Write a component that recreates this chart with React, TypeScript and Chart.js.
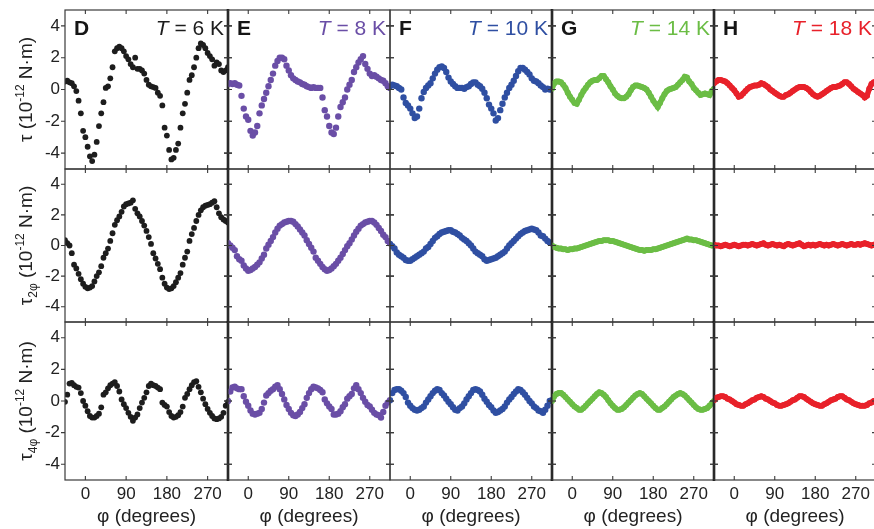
import React, { useEffect, useRef } from "react";
import { Chart, registerables } from "chart.js";

Chart.register(...registerables);

// ---------------- data ----------------
const PHI = [
  -45, -40, -35, -30, -25, -20, -15, -10, -5, 0,
  5, 10, 15, 20, 25, 30, 35, 40, 45, 50,
  55, 60, 65, 70, 75, 80, 85, 90, 95, 100,
  105, 110, 115, 120, 125, 130, 135, 140, 145, 150,
  155, 160, 165, 170, 175, 180, 185, 190, 195, 200,
  205, 210, 215, 220, 225, 230, 235, 240, 245, 250,
  255, 260, 265, 270, 275, 280, 285, 290, 295, 300,
  305, 310, 315,
];

const X_TICKS = [0, 90, 180, 270];
const Y_TICKS = [-4, -2, 0, 2, 4];
const X_RANGE = [-45, 315];
const Y_RANGE = [-5, 5];

const PANEL_LETTERS = ["D", "E", "F", "G", "H"];
const TEMPERATURES = ["6", "8", "10", "14", "18"];
const SERIES_COLORS = ["#1d1d1d", "#6a4ea6", "#2f4fa2", "#6bbd45", "#e8212a"];
const ROW_SUBSCRIPTS = ["", "2\u03c6", "4\u03c6"];
const X_TITLE = "\u03c6 (degrees)";

// torque tau (row 1)
const TAU_6K = [
  0.5, 0.55, 0.45, 0.4, 0.2, -0.1, -0.7, -1.5, -2.6, -3.0,
  -3.6, -4.2, -4.5, -4.1, -3.3, -2.3, -1.5, -0.8, 0.1, 0.2,
  0.7, 1.4, 2.4, 2.6, 2.7, 2.6, 2.4, 2.1, 1.9, 1.6,
  1.4, 2.0, 1.3, 1.3, 1.2, 1.0, 0.6, 0.3, 0.2, 0.15,
  0.1, -0.2, -0.4, -1.0, -2.4, -2.9, -3.8, -4.4, -4.3, -3.8,
  -3.4, -2.4, -1.5, -0.9, -0.2, 0.6, 0.9, 1.4, 2.0, 2.6,
  2.9, 2.8, 2.6, 2.3, 2.1, 1.9, 1.5, 1.7, 1.6, 1.2,
  1.1, 1.2, 1.4,
];
const TAU_8K = [
  0.35, 0.4, 0.35, 0.4, 0.3, 0.25, -0.4, -1.2, -1.7, -1.9,
  -2.6, -2.9, -2.7, -2.3, -1.5, -1.0, -0.6, -0.2, 0.2, 0.6,
  1.0, 1.5, 1.8, 2.0, 2.0, 1.9, 1.5, 1.2, 0.9, 0.7,
  0.6, 0.5, 0.45, 0.35, 0.3, 0.2, 0.15, 0.1, 0.15, 0.1,
  0.1, 0.1, -0.5, -1.3, -1.7, -2.3, -2.7, -2.8, -2.4, -1.7,
  -1.1, -0.8, -0.5, 0.0, 0.3, 0.6, 1.1, 1.4, 1.7, 1.9,
  2.1, 1.6, 1.3, 1.0, 0.85, 0.9, 0.8, 0.7, 0.6, 0.55,
  0.4, 0.2, 0.1,
];
const TAU_10K = [
  0.2, 0.3, 0.25, 0.2, 0.1, 0.0, -0.5, -0.85, -1.0, -1.2,
  -1.5, -1.8, -1.7, -1.2, -0.55, -0.15, 0.1, 0.25, 0.4, 0.7,
  1.0, 1.25, 1.4, 1.45, 1.35, 1.1, 0.75, 0.5, 0.35, 0.2,
  0.1, 0.1, 0.1, 0.05, 0.15, 0.2, 0.35, 0.45, 0.45, 0.3,
  0.2, 0.05, -0.2, -0.55, -0.95, -1.2, -1.5, -1.95, -1.8, -1.3,
  -0.9, -0.5, -0.2, 0.1, 0.3, 0.55, 0.85, 1.15, 1.35, 1.35,
  1.25, 1.1, 0.95, 0.7, 0.55, 0.5, 0.4, 0.25, 0.15, 0.0,
  0.05, 0.0, 0.0,
];
const TAU_14K = [
  0.05, 0.4, 0.5, 0.5, 0.45, 0.3, 0.1, -0.2, -0.45, -0.65,
  -0.85, -0.9, -0.65, -0.35, -0.1, 0.1, 0.3, 0.45, 0.55, 0.6,
  0.6, 0.7, 0.85, 0.85, 0.65, 0.45, 0.2, 0.0, -0.25, -0.4,
  -0.5, -0.55, -0.55, -0.45, -0.3, -0.05, 0.15, 0.25, 0.25, 0.2,
  0.15, 0.1, 0.0, -0.2, -0.45, -0.7, -0.9, -1.1, -0.85, -0.55,
  -0.3, -0.1, 0.0, 0.05, 0.1, 0.15, 0.3, 0.45, 0.6, 0.8,
  0.75, 0.5, 0.35, 0.1, -0.05, -0.2, -0.35, -0.3, -0.25, -0.3,
  -0.35, -0.1, 0.05,
];
const TAU_18K = [
  0.4, 0.5, 0.6, 0.6, 0.55, 0.5, 0.4, 0.25, 0.1, -0.05,
  -0.25, -0.45, -0.4, -0.25, -0.1, 0.05, 0.15, 0.2, 0.25, 0.25,
  0.3, 0.4, 0.35, 0.25, 0.15, 0.0, -0.1, -0.2, -0.3, -0.4,
  -0.45, -0.45, -0.35, -0.3, -0.2, -0.1, 0.0, 0.1, 0.15, 0.15,
  0.15, 0.1, 0.0, -0.15, -0.3, -0.4, -0.45, -0.4, -0.3, -0.2,
  -0.1, 0.0, 0.1, 0.15, 0.15, 0.2, 0.25, 0.35, 0.45, 0.45,
  0.35, 0.2, 0.05, -0.05, -0.15, -0.25, -0.35, -0.5, -0.4, 0.05,
  0.35, 0.45, 0.5,
];

// two-fold component tau_2phi (row 2)
const TAU2_6K = [
  0.35, 0.15, 0.0, -0.5, -1.25, -1.5, -1.85, -2.2, -2.5, -2.7,
  -2.8, -2.75, -2.65, -2.35, -2.0, -1.75, -1.35, -0.8, -0.5, -0.2,
  0.3, 0.8, 1.35, 1.65, 1.9, 2.2, 2.55, 2.7, 2.75, 2.8,
  2.95, 2.4, 2.1, 1.9, 1.6, 1.3, 0.95, 0.55, 0.1, -0.5,
  -0.85, -1.2, -1.55, -2.1, -2.5, -2.75, -2.85, -2.8, -2.65, -2.4,
  -2.1, -1.8, -1.25, -0.8, -0.4, 0.3, 0.75, 1.15, 1.6, 2.0,
  2.3, 2.5, 2.6, 2.65, 2.7, 2.8, 2.9, 2.5, 2.1, 1.85,
  1.7, 1.6, 1.5,
];
const TAU2_8K = [
  0.15, 0.0, -0.15, -0.3, -0.7, -0.9, -1.0, -1.3, -1.5, -1.65,
  -1.6, -1.5, -1.4, -1.25, -1.1, -0.85, -0.6, -0.2, 0.05, 0.3,
  0.55, 0.85, 1.1, 1.3, 1.4, 1.5, 1.55, 1.6, 1.6, 1.55,
  1.4, 1.25, 1.05, 0.85, 0.65, 0.35, 0.1, -0.15, -0.4, -0.8,
  -1.0, -1.2, -1.4, -1.55, -1.65, -1.6, -1.5, -1.35, -1.2, -1.0,
  -0.8, -0.55, -0.3, -0.05, 0.15, 0.4, 0.65, 0.9, 1.1, 1.3,
  1.4, 1.5, 1.55, 1.6, 1.6, 1.5, 1.35, 1.15, 0.95, 0.7,
  0.55, 0.3, 0.15,
];
const TAU2_10K = [
  0.1, -0.05, -0.2, -0.45, -0.6, -0.7, -0.8, -0.95, -1.0, -1.0,
  -0.9, -0.8, -0.7, -0.6, -0.5, -0.4, -0.2, -0.1, 0.1, 0.3,
  0.5, 0.6, 0.75, 0.85, 0.9, 0.95, 1.0, 1.0, 0.9, 0.85,
  0.75, 0.65, 0.5, 0.4, 0.3, 0.15, 0.0, -0.2, -0.4, -0.5,
  -0.6, -0.7, -0.9, -1.0, -0.95, -0.9, -0.85, -0.8, -0.7, -0.6,
  -0.5, -0.4, -0.2, 0.0, 0.15, 0.3, 0.45, 0.6, 0.75, 0.85,
  0.95, 1.0, 1.05, 1.1, 1.05, 1.0, 0.85, 0.65, 0.6, 0.45,
  0.3, 0.2, 0.15,
];
const TAU2_14K = [
  0.0, -0.1, -0.15, -0.2, -0.2, -0.25, -0.25, -0.3, -0.25, -0.25,
  -0.2, -0.2, -0.15, -0.1, -0.05, 0.0, 0.05, 0.1, 0.15, 0.2,
  0.25, 0.3, 0.3, 0.35, 0.35, 0.35, 0.3, 0.3, 0.25, 0.2,
  0.15, 0.1, 0.05, 0.0, -0.05, -0.1, -0.15, -0.2, -0.25, -0.3,
  -0.3, -0.35, -0.3, -0.3, -0.3, -0.25, -0.25, -0.2, -0.15, -0.1,
  -0.05, 0.0, 0.05, 0.1, 0.15, 0.2, 0.25, 0.3, 0.35, 0.4,
  0.45, 0.4, 0.4, 0.35, 0.35, 0.3, 0.25, 0.2, 0.15, 0.1,
  0.05, 0.0, 0.0,
];
const TAU2_18K = [
  0.05, 0.0, 0.0, -0.05, 0.0, 0.05, 0.0, -0.05, 0.0, 0.05,
  0.0, -0.05, 0.0, 0.05, 0.05, 0.0, 0.05, 0.1, 0.05, 0.0,
  0.05, 0.1, 0.15, 0.05, 0.0, 0.05, 0.1, 0.05, 0.0, 0.05,
  0.0, -0.05, 0.05, 0.1, 0.05, 0.0, 0.05, 0.1, 0.15, 0.05,
  -0.05, 0.0, 0.05, 0.0, 0.05, 0.0, 0.05, 0.1, 0.05, 0.0,
  0.05, 0.0, 0.05, 0.1, 0.05, 0.0, 0.05, 0.1, 0.05, 0.0,
  0.05, 0.1, 0.05, 0.05, 0.1, 0.05, 0.1, 0.15, 0.1, 0.05,
  0.0, 0.05, 0.0,
];

// four-fold component tau_4phi (row 3)
const TAU4_6K = [
  -0.05, 0.4, 1.1, 1.15, 1.0, 0.9, 0.85, 0.5, 0.0, -0.3,
  -0.65, -0.95, -1.05, -1.05, -0.95, -0.8, -0.4, 0.4, 0.55, 0.8,
  1.0, 1.1, 1.2, 0.95, 0.6, 0.1, -0.2, -0.45, -0.75, -1.0,
  -1.25, -1.05, -0.85, -0.45, -0.1, 0.2, 0.55, 0.95, 1.1, 1.0,
  0.95, 0.85, 0.75, -0.1, -0.25, -0.35, -0.7, -0.95, -1.05, -1.0,
  -0.9, -0.7, -0.35, 0.2, 0.45, 0.75, 1.0, 1.2, 1.25, 0.9,
  0.55, 0.15, -0.2, -0.5, -0.75, -0.95, -1.1, -1.15, -1.1, -1.0,
  -0.75, -0.3, -0.05,
];
const TAU4_8K = [
  0.0, 0.6, 0.85, 0.9, 0.8, 0.75, 0.75, 0.3, -0.05, -0.3,
  -0.6, -0.8, -0.85, -0.8, -0.75, -0.5, -0.1, 0.35, 0.5, 0.65,
  0.75, 0.9, 1.0, 0.75, 0.45, 0.1, -0.25, -0.5, -0.75, -0.9,
  -0.95, -0.85, -0.7, -0.45, -0.2, 0.2, 0.5, 0.75, 0.9, 0.85,
  0.8, 0.7, 0.55, 0.1, -0.15, -0.35, -0.5, -0.85, -0.85, -0.8,
  -0.65, -0.4, -0.2, 0.15, 0.3, 0.45, 0.8, 1.0, 0.75, 0.5,
  0.2, -0.05, -0.25, -0.35, -0.55, -0.75, -0.85, -0.9, -1.05, -0.7,
  -0.3, -0.1, 0.05,
];
const TAU4_10K = [
  0.05, 0.5, 0.7, 0.75, 0.75, 0.65, 0.5, 0.25, -0.1, -0.3,
  -0.45, -0.55, -0.6, -0.55, -0.45, -0.35, -0.1, 0.1, 0.3, 0.5,
  0.65, 0.75, 0.7, 0.5, 0.35, 0.15, -0.05, -0.2, -0.4, -0.55,
  -0.6, -0.45, -0.35, -0.15, 0.1, 0.3, 0.5, 0.7, 0.75, 0.7,
  0.6, 0.4, 0.15, -0.05, -0.25, -0.4, -0.6, -0.75, -0.7, -0.6,
  -0.5, -0.35, -0.1, 0.1, 0.25, 0.45, 0.6, 0.75, 0.7, 0.55,
  0.4, 0.2, 0.0, -0.15, -0.35, -0.45, -0.6, -0.65, -0.75, -0.55,
  -0.3, 0.0, 0.05,
];
const TAU4_14K = [
  0.0, 0.3, 0.45, 0.5, 0.5, 0.4, 0.25, 0.1, -0.05, -0.2,
  -0.35, -0.45, -0.55, -0.55, -0.45, -0.3, -0.15, 0.0, 0.15, 0.3,
  0.45, 0.55, 0.5, 0.4, 0.25, 0.05, -0.15, -0.3, -0.45, -0.55,
  -0.55, -0.5, -0.4, -0.25, -0.1, 0.05, 0.2, 0.35, 0.45, 0.5,
  0.45, 0.3, 0.15, 0.0, -0.15, -0.3, -0.45, -0.55, -0.55, -0.45,
  -0.35, -0.2, -0.05, 0.1, 0.25, 0.35, 0.45, 0.5, 0.45, 0.35,
  0.2, 0.05, -0.1, -0.25, -0.4, -0.5, -0.55, -0.55, -0.5, -0.45,
  -0.3, -0.15, 0.0,
];
const TAU4_18K = [
  0.05, 0.2, 0.25, 0.3, 0.3, 0.25, 0.15, 0.1, 0.0, -0.1,
  -0.2, -0.25, -0.3, -0.3, -0.2, -0.15, -0.05, 0.05, 0.1, 0.2,
  0.25, 0.3, 0.25, 0.15, 0.1, 0.0, -0.1, -0.15, -0.25, -0.3,
  -0.3, -0.25, -0.2, -0.15, -0.05, 0.05, 0.1, 0.2, 0.3, 0.3,
  0.25, 0.15, 0.05, -0.05, -0.15, -0.2, -0.25, -0.3, -0.3, -0.2,
  -0.15, -0.05, 0.05, 0.1, 0.15, 0.25, 0.3, 0.3, 0.2, 0.1,
  0.05, -0.05, -0.15, -0.2, -0.25, -0.3, -0.3, -0.3, -0.25, -0.15,
  -0.1, 0.0, 0.05,
];

const ROWS = [
  [TAU_6K, TAU_8K, TAU_10K, TAU_14K, TAU_18K],
  [TAU2_6K, TAU2_8K, TAU2_10K, TAU2_14K, TAU2_18K],
  [TAU4_6K, TAU4_8K, TAU4_10K, TAU4_14K, TAU4_18K],
];

// ---------------- layout ----------------
const W = 874;
const H = 529;
const COL_X = [65, 228, 390, 552, 714, 876];
const ROW_Y = [10, 169, 322, 480];
const PAD = 6;
const FONT = '"Liberation Sans", Arial, Helvetica, sans-serif';
const TEXT = "#222";

function drawYTitle(ctx: CanvasRenderingContext2D, cx: number, cy: number, sub: string) {
  const big = `19px ${FONT}`;
  const small = `12px ${FONT}`;
  const parts: { t: string; f: string; dy: number }[] = [{ t: "\u03c4", f: big, dy: 0 }];
  if (sub) parts.push({ t: sub, f: small, dy: 5 });
  parts.push({ t: " (10", f: big, dy: 0 });
  parts.push({ t: "-12", f: small, dy: -8 });
  parts.push({ t: " N\u00b7m)", f: big, dy: 0 });
  let total = 0;
  const widths = parts.map((p) => {
    ctx.font = p.f;
    const w = ctx.measureText(p.t).width;
    total += w;
    return w;
  });
  ctx.save();
  ctx.translate(cx, cy);
  ctx.rotate(-Math.PI / 2);
  ctx.fillStyle = TEXT;
  ctx.textBaseline = "alphabetic";
  ctx.textAlign = "left";
  let x = -total / 2;
  parts.forEach((p, i) => {
    ctx.font = p.f;
    ctx.fillText(p.t, x, 6 + p.dy);
    x += widths[i];
  });
  ctx.restore();
}

const framePlugin = {
  id: "frame",
  afterDatasetsDraw(chart: any, _args: any, opts: any) {
    const { ctx, chartArea: a, scales } = chart;
    const xs = scales.x;
    const ys = scales.y;
    ctx.save();
    // frame
    ctx.strokeStyle = "#3a3a3a";
    ctx.lineWidth = 1.2;
    ctx.strokeRect(a.left, a.top, a.right - a.left, a.bottom - a.top);
    // ticks
    const tl = 4;
    ctx.beginPath();
    for (const v of X_TICKS) {
      const px = xs.getPixelForValue(v);
      ctx.moveTo(px, a.top);
      ctx.lineTo(px, a.top + tl);
      ctx.moveTo(px, a.bottom);
      ctx.lineTo(px, a.bottom - tl);
    }
    for (const v of Y_TICKS) {
      const py = ys.getPixelForValue(v);
      ctx.moveTo(a.left - tl, py);
      ctx.lineTo(opts.col === 0 ? a.left : a.left + tl, py);
      ctx.moveTo(a.right - tl, py);
      ctx.lineTo(a.right + tl, py);
    }
    ctx.lineWidth = 1.1;
    ctx.stroke();
    if (opts.thickRight) {
      ctx.beginPath();
      ctx.strokeStyle = "#111";
      ctx.lineWidth = 2.6;
      ctx.moveTo(a.right, a.top - 1);
      ctx.lineTo(a.right, a.bottom + 1);
      ctx.stroke();
    }
    // panel labels (top row)
    if (opts.row === 0) {
      ctx.textBaseline = "alphabetic";
      ctx.textAlign = "left";
      ctx.fillStyle = "#151515";
      ctx.font = `bold 21px ${FONT}`;
      ctx.fillText(opts.letter, a.left + 9, a.top + 25);
      const italic = `italic 21px ${FONT}`;
      const normal = `21px ${FONT}`;
      const rest = ` = ${opts.temp} K`;
      ctx.font = normal;
      const wRest = ctx.measureText(rest).width;
      ctx.font = italic;
      const wT = ctx.measureText("T").width;
      const xEnd = a.right - 4;
      ctx.fillStyle = opts.color;
      ctx.fillText("T", xEnd - wRest - wT, a.top + 25);
      ctx.font = normal;
      ctx.fillText(rest, xEnd - wRest, a.top + 25);
    }
    // y title (left column)
    if (opts.col === 0) {
      drawYTitle(ctx, 26, (a.top + a.bottom) / 2, ROW_SUBSCRIPTS[opts.row]);
    }
    ctx.restore();
  },
};

function Panel({ row, col }: { row: number; col: number }) {
  const ref = useRef<HTMLCanvasElement | null>(null);
  const L = COL_X[col];
  const R = COL_X[col + 1];
  const T = ROW_Y[row];
  const B = ROW_Y[row + 1];
  const left = col === 0 ? 0 : L - PAD;
  const right = R + PAD;
  const top = T - PAD;
  const bottom = row === 2 ? H : B + PAD;
  const cw = right - left;
  const ch = bottom - top;

  useEffect(() => {
    if (!ref.current) return;
    const values = ROWS[row][col];
    const color = SERIES_COLORS[col];
    const dense = col >= 3;
    const xScale: any = {
      type: "linear",
      min: X_RANGE[0],
      max: X_RANGE[1],
      display: row === 2,
      afterBuildTicks: (s: any) => {
        s.ticks = X_TICKS.map((v) => ({ value: v }));
      },
      grid: { display: false, drawTicks: false },
      border: { display: false },
      ticks: {
        font: { size: 17, family: FONT },
        color: TEXT,
        padding: 4,
        maxRotation: 0,
        autoSkip: false,
      },
      title: {
        display: true,
        text: X_TITLE,
        font: { size: 19, family: FONT },
        color: TEXT,
        padding: { top: 0, bottom: 1 },
      },
    };
    if (row === 2) {
      xScale.afterFit = (s: any) => {
        s.height = H - ROW_Y[3];
        s.paddingLeft = 0;
        s.paddingRight = 0;
        s.paddingTop = 0;
        s.paddingBottom = 0;
      };
    }
    const yScale: any = {
      type: "linear",
      min: Y_RANGE[0],
      max: Y_RANGE[1],
      display: col === 0,
      afterBuildTicks: (s: any) => {
        s.ticks = Y_TICKS.map((v) => ({ value: v }));
      },
      grid: { display: false, drawTicks: false },
      border: { display: false },
      ticks: {
        font: { size: 17, family: FONT },
        color: TEXT,
        padding: 5,
      },
    };
    if (col === 0) {
      yScale.afterFit = (s: any) => {
        s.width = COL_X[0];
        s.paddingTop = 0;
        s.paddingBottom = 0;
        s.paddingLeft = 0;
        s.paddingRight = 0;
      };
    }
    const radius = dense ? 3 : col === 0 ? 2.9 : 3.2;
    const chart = new Chart(ref.current, {
      type: "scatter",
      data: {
        datasets: [
          {
            data: PHI.map((p, i) => ({ x: p, y: values[i] })),
            pointRadius: radius,
            pointHoverRadius: 0,
            pointBackgroundColor: color,
            pointBorderWidth: 0,
            showLine: dense,
            borderColor: color,
            borderWidth: dense ? 5.5 : 0,
          },
        ],
      },
      options: {
        responsive: false,
        maintainAspectRatio: false,
        animation: false,
        events: [],
        layout: {
          padding: {
            left: col === 0 ? 0 : PAD,
            right: PAD,
            top: PAD,
            bottom: row === 2 ? 0 : PAD,
          },
        },
        plugins: {
          legend: { display: false },
          tooltip: { enabled: false },
          frame: {
            row,
            col,
            letter: PANEL_LETTERS[col],
            temp: TEMPERATURES[col],
            color,
            thickRight: col === 0 || col === 2 || col === 3,
          },
        } as any,
        scales: { x: xScale, y: yScale },
      },
      plugins: [framePlugin as any],
    });
    return () => chart.destroy();
  }, [row, col]);

  return (
    <canvas
      ref={ref}
      width={cw}
      height={ch}
      style={{ position: "absolute", left, top, width: cw, height: ch }}
    />
  );
}

export default function App() {
  const panels = [];
  for (let r = 0; r < 3; r++) {
    for (let c = 0; c < 5; c++) {
      panels.push(<Panel key={`${r}-${c}`} row={r} col={c} />);
    }
  }
  return (
    <div
      style={{
        position: "absolute",
        left: 0,
        top: 0,
        width: W,
        height: H,
        overflow: "hidden",
        background: "#fff",
      }}
    >
      {panels}
    </div>
  );
}
